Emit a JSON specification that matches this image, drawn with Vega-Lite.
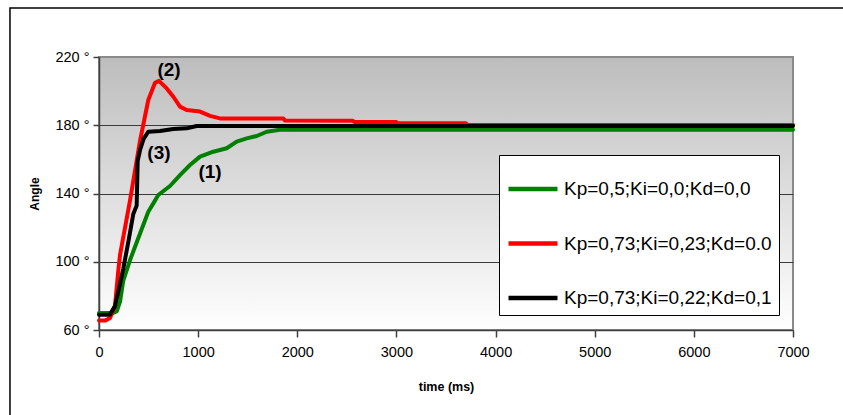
{
  "$schema": "https://vega.github.io/schema/vega-lite/v6.json",
  "width": 694,
  "height": 273,
  "autosize": "none",
  "padding": {"left": 99, "top": 57, "right": 50, "bottom": 85},
  "background": "white",
  "config": {
    "font": "Liberation Sans",
    "view": {
      "stroke": "#8a8a8a",
      "strokeWidth": 2,
      "fill": {"gradient": "linear", "x1": 0, "y1": 0, "x2": 0, "y2": 1,
        "stops": [{"offset": 0, "color": "#bdbdbd"}, {"offset": 1, "color": "#ffffff"}]}
    }
  },
  "datasets": {
    "curves": [
      {"t": 0, "v": 70, "s": "Kp=0,5;Ki=0,0;Kd=0,0"},
      {"t": 145, "v": 70, "s": "Kp=0,5;Ki=0,0;Kd=0,0"},
      {"t": 180, "v": 71, "s": "Kp=0,5;Ki=0,0;Kd=0,0"},
      {"t": 212, "v": 76.6, "s": "Kp=0,5;Ki=0,0;Kd=0,0"},
      {"t": 245, "v": 89, "s": "Kp=0,5;Ki=0,0;Kd=0,0"},
      {"t": 279, "v": 95, "s": "Kp=0,5;Ki=0,0;Kd=0,0"},
      {"t": 313, "v": 101, "s": "Kp=0,5;Ki=0,0;Kd=0,0"},
      {"t": 414, "v": 116.6, "s": "Kp=0,5;Ki=0,0;Kd=0,0"},
      {"t": 497, "v": 129.3, "s": "Kp=0,5;Ki=0,0;Kd=0,0"},
      {"t": 548, "v": 134.2, "s": "Kp=0,5;Ki=0,0;Kd=0,0"},
      {"t": 598, "v": 139.1, "s": "Kp=0,5;Ki=0,0;Kd=0,0"},
      {"t": 716, "v": 144.4, "s": "Kp=0,5;Ki=0,0;Kd=0,0"},
      {"t": 817, "v": 150.8, "s": "Kp=0,5;Ki=0,0;Kd=0,0"},
      {"t": 918, "v": 156.7, "s": "Kp=0,5;Ki=0,0;Kd=0,0"},
      {"t": 1019, "v": 161.6, "s": "Kp=0,5;Ki=0,0;Kd=0,0"},
      {"t": 1153, "v": 164.5, "s": "Kp=0,5;Ki=0,0;Kd=0,0"},
      {"t": 1288, "v": 166.5, "s": "Kp=0,5;Ki=0,0;Kd=0,0"},
      {"t": 1389, "v": 170.4, "s": "Kp=0,5;Ki=0,0;Kd=0,0"},
      {"t": 1490, "v": 172.3, "s": "Kp=0,5;Ki=0,0;Kd=0,0"},
      {"t": 1591, "v": 173.7, "s": "Kp=0,5;Ki=0,0;Kd=0,0"},
      {"t": 1692, "v": 176.2, "s": "Kp=0,5;Ki=0,0;Kd=0,0"},
      {"t": 1826, "v": 177.4, "s": "Kp=0,5;Ki=0,0;Kd=0,0"},
      {"t": 7000, "v": 177.4, "s": "Kp=0,5;Ki=0,0;Kd=0,0"},

      {"t": 0, "v": 65.5, "s": "Kp=0,73;Ki=0,23;Kd=0.0"},
      {"t": 61, "v": 65.5, "s": "Kp=0,73;Ki=0,23;Kd=0.0"},
      {"t": 111, "v": 67, "s": "Kp=0,73;Ki=0,23;Kd=0.0"},
      {"t": 161, "v": 74, "s": "Kp=0,73;Ki=0,23;Kd=0.0"},
      {"t": 195, "v": 95, "s": "Kp=0,73;Ki=0,23;Kd=0.0"},
      {"t": 212, "v": 104, "s": "Kp=0,73;Ki=0,23;Kd=0.0"},
      {"t": 313, "v": 136, "s": "Kp=0,73;Ki=0,23;Kd=0.0"},
      {"t": 414, "v": 171, "s": "Kp=0,73;Ki=0,23;Kd=0.0"},
      {"t": 497, "v": 194.8, "s": "Kp=0,73;Ki=0,23;Kd=0.0"},
      {"t": 565, "v": 204.9, "s": "Kp=0,73;Ki=0,23;Kd=0.0"},
      {"t": 605, "v": 206, "s": "Kp=0,73;Ki=0,23;Kd=0.0"},
      {"t": 683, "v": 201.6, "s": "Kp=0,73;Ki=0,23;Kd=0.0"},
      {"t": 750, "v": 196.7, "s": "Kp=0,73;Ki=0,23;Kd=0.0"},
      {"t": 817, "v": 190.9, "s": "Kp=0,73;Ki=0,23;Kd=0.0"},
      {"t": 884, "v": 188.9, "s": "Kp=0,73;Ki=0,23;Kd=0.0"},
      {"t": 1019, "v": 188, "s": "Kp=0,73;Ki=0,23;Kd=0.0"},
      {"t": 1120, "v": 185.5, "s": "Kp=0,73;Ki=0,23;Kd=0.0"},
      {"t": 1220, "v": 184, "s": "Kp=0,73;Ki=0,23;Kd=0.0"},
      {"t": 1859, "v": 184, "s": "Kp=0,73;Ki=0,23;Kd=0.0"},
      {"t": 1875, "v": 182.8, "s": "Kp=0,73;Ki=0,23;Kd=0.0"},
      {"t": 2560, "v": 182.6, "s": "Kp=0,73;Ki=0,23;Kd=0.0"},
      {"t": 2575, "v": 181.9, "s": "Kp=0,73;Ki=0,23;Kd=0.0"},
      {"t": 3000, "v": 181.9, "s": "Kp=0,73;Ki=0,23;Kd=0.0"},
      {"t": 3015, "v": 181.2, "s": "Kp=0,73;Ki=0,23;Kd=0.0"},
      {"t": 3700, "v": 181.2, "s": "Kp=0,73;Ki=0,23;Kd=0.0"},
      {"t": 3715, "v": 180.1, "s": "Kp=0,73;Ki=0,23;Kd=0.0"},
      {"t": 7000, "v": 180.1, "s": "Kp=0,73;Ki=0,23;Kd=0.0"},

      {"t": 0, "v": 69, "s": "Kp=0,73;Ki=0,22;Kd=0,1"},
      {"t": 110, "v": 69, "s": "Kp=0,73;Ki=0,22;Kd=0,1"},
      {"t": 161, "v": 74, "s": "Kp=0,73;Ki=0,22;Kd=0,1"},
      {"t": 212, "v": 87, "s": "Kp=0,73;Ki=0,22;Kd=0,1"},
      {"t": 245, "v": 96, "s": "Kp=0,73;Ki=0,22;Kd=0,1"},
      {"t": 300, "v": 113, "s": "Kp=0,73;Ki=0,22;Kd=0,1"},
      {"t": 346, "v": 128, "s": "Kp=0,73;Ki=0,22;Kd=0,1"},
      {"t": 380, "v": 133, "s": "Kp=0,73;Ki=0,22;Kd=0,1"},
      {"t": 390, "v": 159, "s": "Kp=0,73;Ki=0,22;Kd=0,1"},
      {"t": 414, "v": 165.5, "s": "Kp=0,73;Ki=0,22;Kd=0,1"},
      {"t": 450, "v": 172, "s": "Kp=0,73;Ki=0,22;Kd=0,1"},
      {"t": 497, "v": 176.2, "s": "Kp=0,73;Ki=0,22;Kd=0,1"},
      {"t": 615, "v": 176.6, "s": "Kp=0,73;Ki=0,22;Kd=0,1"},
      {"t": 750, "v": 177.8, "s": "Kp=0,73;Ki=0,22;Kd=0,1"},
      {"t": 884, "v": 178.2, "s": "Kp=0,73;Ki=0,22;Kd=0,1"},
      {"t": 985, "v": 179.6, "s": "Kp=0,73;Ki=0,22;Kd=0,1"},
      {"t": 7000, "v": 179.6, "s": "Kp=0,73;Ki=0,22;Kd=0,1"}
    ],
    "notes": [
      {"label": "(2)", "t": 706, "v": 212.4},
      {"label": "(3)", "t": 605, "v": 163.7},
      {"label": "(1)", "t": 1120, "v": 152.6}
    ]
  },
  "layer": [
    {
      "data": {"values": [{}]},
      "mark": {"type": "rect", "fill": null, "stroke": "black", "strokeWidth": 1.5, "clip": false},
      "encoding": {
        "x": {"datum": -898, "type": "quantitative"},
        "x2": {"datum": 9000},
        "y": {"datum": 248.7, "type": "quantitative"},
        "y2": {"datum": 0}
      }
    },
    {
      "data": {"name": "curves"},
      "mark": {"type": "line", "strokeWidth": 4, "strokeCap": "round", "strokeJoin": "round"},
      "encoding": {
        "x": {
          "field": "t", "type": "quantitative",
          "scale": {"domain": [0, 7000], "nice": false, "zero": false},
          "axis": {
            "values": [0, 1000, 2000, 3000, 4000, 5000, 6000, 7000],
            "format": "d",
            "title": "time (ms)", "grid": false,
            "domainColor": "#404040", "domainWidth": 1.5,
            "tickColor": "#404040", "tickWidth": 1.5, "tickSize": 7,
            "labelFont": "Liberation Sans", "labelFontSize": 14.5, "labelColor": "black",
            "labelPadding": 8, "labelFlush": false, "labelOverlap": false,
            "titleFont": "Liberation Sans", "titleFontSize": 12.5, "titleFontWeight": "bold",
            "titleColor": "black", "titlePadding": 22, "zindex": 1
          }
        },
        "y": {
          "field": "v", "type": "quantitative",
          "scale": {"domain": [60, 220], "nice": false, "zero": false},
          "axis": {
            "values": [60, 100, 140, 180, 220],
            "labelExpr": "datum.value + ' °'",
            "title": "Angle",
            "grid": true,
            "gridColor": {"condition": {"test": "datum.value === 220 || datum.value === 60", "value": "transparent"}, "value": "#3a3a3a"},
            "gridWidth": 1,
            "domainColor": "#404040", "domainWidth": 1.5,
            "tickColor": "#404040", "tickWidth": 1.5, "tickSize": 6,
            "labelFont": "Liberation Sans", "labelFontSize": 14.5, "labelColor": "black",
            "labelPadding": 4, "labelFlush": false, "labelOverlap": false,
            "titleFont": "Liberation Sans", "titleFontSize": 12, "titleFontWeight": "bold",
            "titleColor": "black", "titlePadding": 13, "zindex": 0
          }
        },
        "color": {
          "field": "s", "type": "nominal",
          "scale": {
            "domain": ["Kp=0,5;Ki=0,0;Kd=0,0", "Kp=0,73;Ki=0,23;Kd=0.0", "Kp=0,73;Ki=0,22;Kd=0,1"],
            "range": ["#008000", "#ff0000", "#000000"]
          },
          "legend": {
            "title": null,
            "orient": "none",
            "legendX": 400,
            "legendY": 98,
            "direction": "vertical",
            "symbolType": "stroke",
            "symbolSize": 2401,
            "symbolStrokeWidth": 4.5,
            "labelFont": "Liberation Sans",
            "labelFontSize": 19,
            "labelColor": "black",
            "labelOffset": 4,
            "labelLimit": 400,
            "rowPadding": 17.5,
            "padding": 7,
            "fillColor": "white",
            "strokeColor": "black"
          }
        },
        "order": {"field": "t", "type": "quantitative"}
      }
    },
    {
      "data": {"name": "notes"},
      "mark": {"type": "text", "font": "Liberation Sans", "fontWeight": "bold", "fontSize": 19, "color": "black", "align": "center", "baseline": "middle"},
      "encoding": {
        "x": {"field": "t", "type": "quantitative"},
        "y": {"field": "v", "type": "quantitative"},
        "text": {"field": "label"}
      }
    }
  ]
}
